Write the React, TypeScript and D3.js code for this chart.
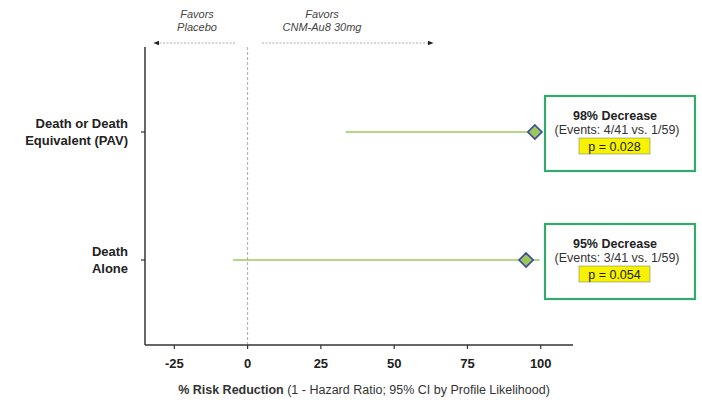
import React from "react";
import * as d3 from "d3";

// Endpoints, point estimates and 95% CI bounds (% risk reduction)
const endpoints = ["Death or Death|Equivalent (PAV)", "Death|Alone"];
const estimates = [98, 95];
const ciLower = [33.5, -5];
const ciUpper = [99.6, 99.6];
const decreaseLabels = ["98% Decrease", "95% Decrease"];
const eventLabels = ["(Events: 4/41 vs. 1/59)", "(Events: 3/41 vs. 1/59)"];
const pValues = ["p = 0.028", "p = 0.054"];
const xTicks = [-25, 0, 25, 50, 75, 100];

const W = 702;
const H = 413;
const FONT = "'Liberation Sans', Arial, sans-serif";

export default function App() {
  const x = d3.scaleLinear().domain([-35, 111]).range([145, 573]);
  const y = d3.scalePoint<string>().domain(endpoints).range([132, 260]);
  const axisY = 345;
  const topY = 47;
  const diamond = d3.symbol().type(d3.symbolDiamond2).size(125)();

  return (
    <svg width={W} height={H} style={{ position: "absolute", left: 0, top: 0, background: "#fff" }} fontFamily={FONT}>
      <defs>
        <marker id="arr" viewBox="0 0 10 10" refX="9" refY="5" markerWidth="7" markerHeight="7" orient="auto-start-reverse">
          <path d="M0,1 L10,5 L0,9 z" fill="#222" />
        </marker>
      </defs>

      {/* direction header */}
      <g fontStyle="italic" fontSize={11} fill="#444" textAnchor="middle">
        <text x={197} y={18}>Favors</text>
        <text x={197} y={31}>Placebo</text>
        <text x={322} y={18}>Favors</text>
        <text x={322} y={31}>CNM-Au8 30mg</text>
      </g>
      <line x1={235} x2={154} y1={43} y2={43} stroke="#999" strokeWidth={0.8} strokeDasharray="2,1.5" markerEnd="url(#arr)" />
      <line x1={262} x2={433} y1={43} y2={43} stroke="#999" strokeWidth={0.8} strokeDasharray="2,1.5" markerEnd="url(#arr)" />

      {/* zero reference */}
      <line x1={x(0)} x2={x(0)} y1={topY} y2={axisY} stroke="#aaa" strokeWidth={1} strokeDasharray="3,2" />

      {/* axes */}
      <line x1={x.range()[0]} x2={x.range()[0]} y1={topY} y2={axisY} stroke="#333" strokeWidth={1.5} />
      <line x1={x.range()[0]} x2={x.range()[1]} y1={axisY} y2={axisY} stroke="#333" strokeWidth={1.5} />
      {xTicks.map((t) => (
        <g key={t}>
          <line x1={x(t)} x2={x(t)} y1={axisY} y2={axisY + 4} stroke="#333" strokeWidth={1.2} />
          <text x={x(t)} y={axisY + 23} textAnchor="middle" fontSize={13} fontWeight="bold" fill="#222">
            {t}
          </text>
        </g>
      ))}
      {endpoints.map((e) => (
        <line key={e} x1={x.range()[0] - 4} x2={x.range()[0]} y1={y(e)} y2={y(e)} stroke="#333" strokeWidth={1.2} />
      ))}

      {/* endpoint labels */}
      {endpoints.map((e) => {
        const lines = e.split("|");
        return (
          <text key={e} textAnchor="end" fontSize={13} fontWeight="bold" fill="#222">
            {lines.map((l, i) => (
              <tspan key={i} x={128} y={y(e)! - 4 + i * 17}>
                {l}
              </tspan>
            ))}
          </text>
        );
      })}

      {/* CI lines and estimates */}
      {endpoints.map((e, i) => (
        <g key={e}>
          <line x1={x(ciLower[i])} x2={x(ciUpper[i])} y1={y(e)} y2={y(e)} stroke="#9cc85a" strokeWidth={1.5} />
          <path d={diamond!} transform={`translate(${x(estimates[i])},${y(e)})`} fill="#9cc85a" stroke="#3a4c9c" strokeWidth={1.7} />
        </g>
      ))}

      {/* annotation boxes */}
      {endpoints.map((e, i) => {
        const cy = y(e)!;
        const bx = 545;
        const by = cy - 36;
        return (
          <g key={e}>
            <rect x={bx} y={by} width={150} height={75} fill="#fff" stroke="#35a86b" strokeWidth={2.2} />
            <text x={bx + 70} y={by + 24} textAnchor="middle" fontSize={12.5} fontWeight="bold" fill="#222">
              {decreaseLabels[i]}
            </text>
            <text x={bx + 72} y={by + 38} textAnchor="middle" fontSize={12.5} fill="#333">
              {eventLabels[i]}
            </text>
            <rect x={bx + 34} y={by + 42} width={71} height={16} fill="#f6f200" stroke="#888" strokeWidth={0.6} />
            <text x={bx + 69.5} y={by + 55} textAnchor="middle" fontSize={12.5} fill="#222">
              {pValues[i]}
            </text>
          </g>
        );
      })}

      {/* axis title */}
      <text x={364} y={394} textAnchor="middle" fontSize={12.5} fill="#333">
        <tspan fontWeight="bold">% Risk Reduction</tspan>
        <tspan> (1 - Hazard Ratio; 95% CI by Profile Likelihood)</tspan>
      </text>
    </svg>
  );
}
